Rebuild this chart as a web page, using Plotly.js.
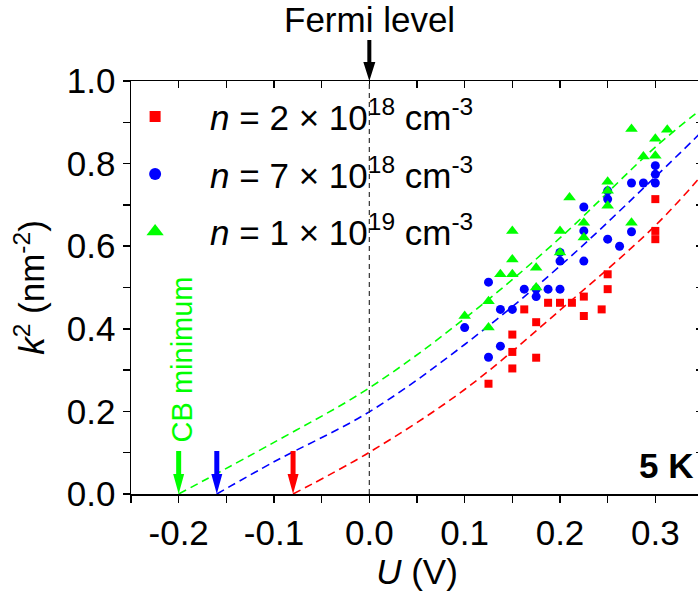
<!DOCTYPE html>
<html>
<head>
<meta charset="utf-8">
<script src="https://cdn.plot.ly/plotly-3.0.1.min.js"></script>
<style>
html,body{margin:0;padding:0;overflow:hidden;background:#fff;}
#chart{width:710px;height:591px;}
</style>
</head>
<body>
<div id="chart"></div>
<script>
// ---------- data ----------
const redU = [0.125,0.15,0.15,0.15,0.1625,0.175,0.175,0.1875,0.2,0.2125,0.225,0.225,0.2437,0.25,0.25,0.3,0.3,0.3];
const redK = [0.267,0.304,0.344,0.386,0.447,0.416,0.330,0.463,0.463,0.463,0.478,0.431,0.447,0.532,0.496,0.714,0.637,0.617];

const blueU = [0.1,0.125,0.125,0.1375,0.1375,0.15,0.1625,0.175,0.175,0.1875,0.2,0.2,0.2,0.225,0.225,0.225,0.25,0.25,0.25,0.2625,0.275,0.275,0.2875,0.3,0.3,0.3];
const blueK = [0.403,0.513,0.331,0.447,0.358,0.447,0.496,0.496,0.478,0.496,0.496,0.564,0.585,0.695,0.637,0.564,0.714,0.734,0.617,0.600,0.753,0.635,0.753,0.753,0.774,0.795];

const greenU = [0.1,0.125,0.125,0.1375,0.15,0.15,0.15,0.175,0.175,0.2,0.2,0.21,0.225,0.225,0.25,0.25,0.25,0.275,0.275,0.2875,0.3,0.3,0.3125];
const greenK = [0.431,0.467,0.403,0.532,0.637,0.568,0.532,0.548,0.500,0.637,0.585,0.718,0.657,0.621,0.756,0.734,0.698,0.884,0.657,0.817,0.860,0.819,0.882];

// dashed fit curves
const redFitU = [-0.08,0,0.1,0.2,0.3,0.35];
const redFitK = [0,0.101,0.253,0.445,0.650,0.775];
const blueFitU = [-0.16,-0.1,0,0.1,0.2,0.3,0.35];
const blueFitK = [0,0.078,0.199,0.362,0.552,0.768,0.880];
const greenFitU = [-0.2,-0.1,0,0.1,0.2,0.3,0.35];
const greenFitK = [0,0.125,0.257,0.425,0.620,0.840,0.935];

// onset (CB minimum) positions for arrows
const onsetU = [-0.2,-0.16,-0.08];
const onsetColors = ['#00ff00','#0000ff','#ff0000'];

// ticks
const xTickVals = [-0.25,-0.2,-0.15,-0.1,-0.05,0,0.05,0.1,0.15,0.2,0.25,0.3,0.35];
const xTickText = ['','-0.2','','-0.1','','0.0','','0.1','','0.2','','0.3',''];
const yTickVals = [0,0.1,0.2,0.3,0.4,0.5,0.6,0.7,0.8,0.9,1.0];
const yTickText = ['0.0','','0.2','','0.4','','0.6','','0.8','','1.0'];

const legendNames = [
  '<i>n</i> = 2 × 10<sup>18</sup> cm<sup>-3</sup>',
  '<i>n</i> = 7 × 10<sup>18</sup> cm<sup>-3</sup>',
  '<i>n</i> = 1 × 10<sup>19</sup> cm<sup>-3</sup>'
];

// ---------- chart ----------
const FONT = 'Liberation Sans, Arial, sans-serif';
const RED = '#ff0000', BLUE = '#0000ff', GREEN = '#00ff00';

function fit(u,k,c){return {x:u,y:k,mode:'lines',line:{color:c,width:1.6,dash:'8px,5px',shape:'spline'},showlegend:false,hoverinfo:'skip'};}
function pts(u,k,c,sym,sz){return {x:u,y:k,mode:'markers',marker:{color:c,symbol:sym,size:sz},showlegend:false};}
function leg(name,c,sym,sz,g){return {x:[null],y:[null],mode:'markers',name:name,legendgroup:g,marker:{color:c,symbol:sym,size:sz},showlegend:true};}

const data = [
  fit(redFitU,redFitK,RED), fit(blueFitU,blueFitK,BLUE), fit(greenFitU,greenFitK,GREEN),
  pts(redU,redK,RED,'square',8), pts(blueU,blueK,BLUE,'circle',9), pts(greenU,greenK,GREEN,'triangle-up',11),
  leg(legendNames[0],RED,'square',11,'a'), leg(legendNames[1],BLUE,'circle',12,'b'), leg(legendNames[2],GREEN,'triangle-up',15,'c'),
  {x:[null],y:[null],xaxis:'x2',yaxis:'y2',showlegend:false,mode:'markers',hoverinfo:'skip'}
];

const axCommon = {showgrid:false,zeroline:false,showline:true,linecolor:'#000',linewidth:1.5,
  tickcolor:'#000',tickwidth:1.5,ticklen:7,tickmode:'array',
  tickfont:{family:FONT,size:35,color:'#000'}};

const shapes = [
  {type:'line',xref:'x',yref:'y',x0:0,x1:0,y0:0,y1:1,line:{color:'#333',width:1.2,dash:'5px,4px'}},
  {type:'path',xref:'x',yref:'paper',xsizemode:'pixel',ysizemode:'pixel',xanchor:0,yanchor:1,
   path:'M-2,41 L2,41 L2,19 L6,19 L0,0 L-6,19 L-2,19 Z',fillcolor:'#000',line:{width:0}}
];
onsetU.forEach((u,i)=>{
  shapes.push({type:'path',xref:'x',yref:'y',xsizemode:'pixel',ysizemode:'pixel',xanchor:u,yanchor:0,
    path:'M-2.5,43 L2.5,43 L2.5,20 L5.5,20 L0,0 L-5.5,20 L-2.5,20 Z',fillcolor:onsetColors[i],line:{width:0}});
});

const layout = {
  width:710,height:591,
  margin:{l:131,r:7,t:81,b:97},
  paper_bgcolor:'#fff',plot_bgcolor:'#fff',
  font:{family:FONT,size:35,color:'#000'},
  xaxis:Object.assign({},axCommon,{range:[-0.25,0.35],tickvals:xTickVals,ticktext:xTickText,ticks:'outside',
    title:{text:'<i>U</i> (V)',font:{family:FONT,size:35},standoff:4}}),
  yaxis:Object.assign({},axCommon,{range:[0,1],tickvals:yTickVals,ticktext:yTickText,ticks:'outside',
    title:{text:'<i>k</i><sup>2</sup> (nm<sup>-2</sup>)',font:{family:FONT,size:35},standoff:11}}),
  xaxis2:Object.assign({},axCommon,{range:[-0.25,0.35],tickvals:xTickVals,ticks:'inside',showticklabels:false,
    overlaying:'x',side:'top',anchor:'y'}),
  yaxis2:Object.assign({},axCommon,{range:[0,1],tickvals:yTickVals,ticks:'inside',showticklabels:false,
    overlaying:'y',side:'right',anchor:'x'}),
  showlegend:true,
  legend:{x:-0.054,xanchor:'left',y:0.985,yanchor:'top',bgcolor:'rgba(0,0,0,0)',
    itemwidth:100,tracegroupgap:9,font:{family:FONT,size:35,color:'#000'},traceorder:'grouped'},
  shapes:shapes,
  annotations:[
    {text:'Fermi level',xref:'x',yref:'paper',x:0,y:1.148,xanchor:'center',yanchor:'middle',showarrow:false,
     font:{family:FONT,size:35,color:'#000'}},
    {text:'CB minimum',xref:'x',yref:'y',x:-0.2,y:0.325,xshift:3,textangle:-90,xanchor:'center',yanchor:'middle',showarrow:false,
     font:{family:FONT,size:29,color:GREEN}},
    {text:'<b>5 K</b>',xref:'x',yref:'y',x:0.35,y:0.069,xshift:-8,xanchor:'right',yanchor:'middle',showarrow:false,
     font:{family:FONT,size:35,color:'#000'}}
  ]
};

Plotly.newPlot('chart',data,layout,{displayModeBar:false,staticPlot:true});
</script>
</body>
</html>
